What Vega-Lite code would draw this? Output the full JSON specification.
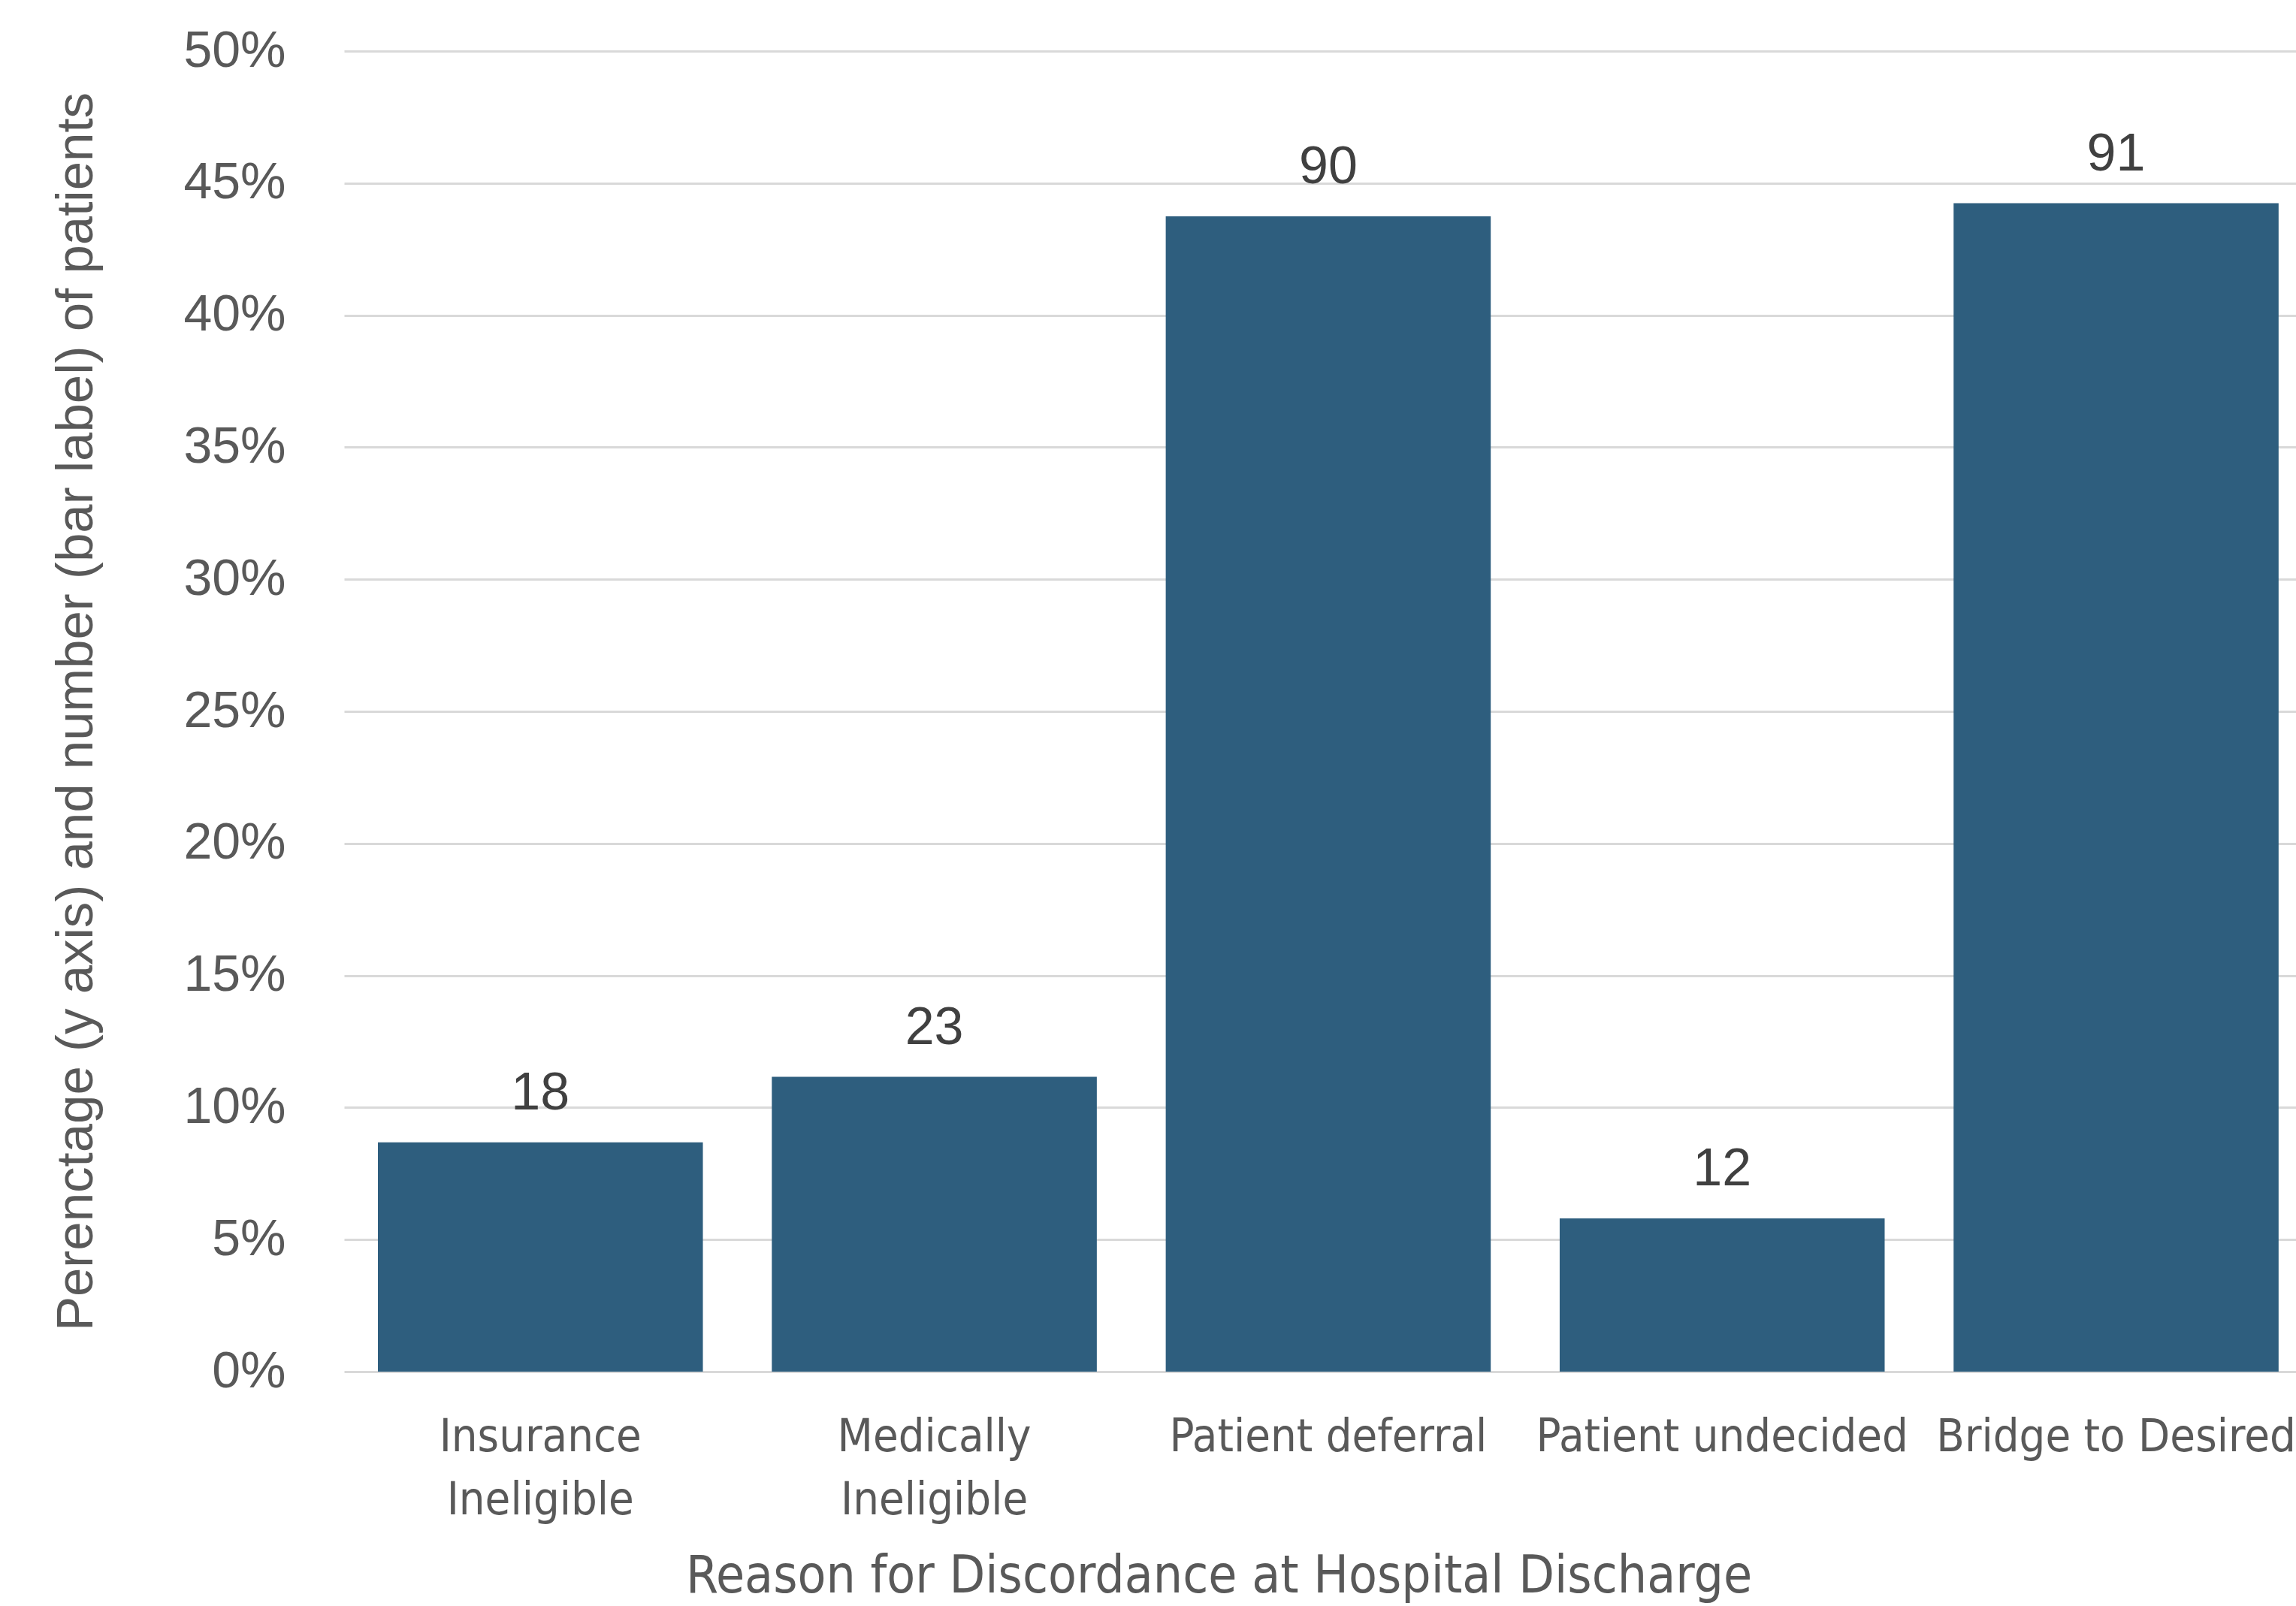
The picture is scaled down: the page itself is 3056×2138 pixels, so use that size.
{
  "$schema": "https://vega.github.io/schema/vega-lite/v6.json",
  "width": 2598,
  "height": 1758,
  "autosize": "none",
  "padding": {"left": 458, "top": 68, "right": 0, "bottom": 312},
  "background": "white",
  "config": {"view": {"stroke": null}},
  "data": {
    "values": [
      {"reason": "Insurance Ineligible", "n": 18, "pct": 0.0868},
      {"reason": "Medically Ineligible", "n": 23, "pct": 0.1116},
      {"reason": "Patient deferral", "n": 90, "pct": 0.4374},
      {"reason": "Patient undecided", "n": 12, "pct": 0.058},
      {"reason": "Bridge to Desired", "n": 91, "pct": 0.4424}
    ]
  },
  "encoding": {
    "x": {
      "field": "reason",
      "type": "nominal",
      "sort": null,
      "scale": {"paddingInner": 0.175, "paddingOuter": 0.065, "align": 0.66},
      "axis": {
        "title": "Reason for Discordance at Hospital Discharge",
        "titleFont": "DejaVu Sans Condensed, Liberation Sans, sans-serif",
        "titleFontSize": 69,
        "titleFontWeight": "normal",
        "titleColor": "#595959",
        "titleX": 1164,
        "titleY": 293,
        "titleAlign": "center",
        "titleBaseline": "alphabetic",
        "labelFont": "DejaVu Sans Condensed, Liberation Sans, sans-serif",
        "labelFontSize": 61,
        "labelColor": "#595959",
        "labelAngle": 0,
        "labelPadding": 57,
        "labelLineHeight": 84,
        "labelLimit": 0,
        "labelExpr": "datum.label == 'Insurance Ineligible' ? ['Insurance', 'Ineligible'] : datum.label == 'Medically Ineligible' ? ['Medically', 'Ineligible'] : datum.label",
        "domain": false,
        "ticks": false,
        "grid": false
      }
    },
    "y": {
      "field": "pct",
      "type": "quantitative",
      "scale": {"domain": [0, 0.5], "nice": false},
      "axis": {
        "title": "Perenctage (y axis) and number (bar label) of patients",
        "titleFont": "Liberation Sans",
        "titleFontSize": 69,
        "titleFontWeight": "normal",
        "titleColor": "#595959",
        "titleX": -357,
        "titleY": 879,
        "titleAngle": -90,
        "titleAlign": "center",
        "titleBaseline": "middle",
        "values": [0, 0.05, 0.1, 0.15, 0.2, 0.25, 0.3, 0.35, 0.4, 0.45, 0.5],
        "format": ".0%",
        "labelFont": "Liberation Sans",
        "labelFontSize": 68,
        "labelColor": "#595959",
        "labelPadding": 78,
        "domain": false,
        "ticks": false,
        "grid": true,
        "gridColor": "#D9D9D9",
        "gridWidth": 3
      }
    }
  },
  "layer": [
    {"mark": {"type": "bar", "color": "#2E5E7E"}},
    {
      "mark": {
        "type": "text",
        "baseline": "alphabetic",
        "align": "center",
        "dy": -44,
        "font": "Liberation Sans",
        "fontSize": 70,
        "color": "#404040"
      },
      "encoding": {"text": {"field": "n", "type": "quantitative"}}
    }
  ]
}
